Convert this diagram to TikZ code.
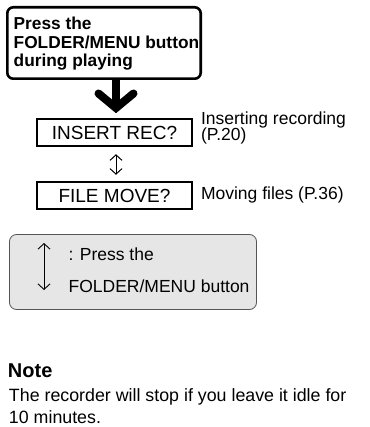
\documentclass[tikz,border=0pt]{standalone}
\usepackage{fontspec}
\setmainfont{Liberation Sans}
\usetikzlibrary{arrows.meta}
\definecolor{keyfill}{HTML}{E6E6E6}
\definecolor{keyline}{HTML}{555555}
\begin{document}
\begin{tikzpicture}[x=1pt,y=-1pt,
  every node/.style={inner sep=0pt, outer sep=0pt},
  topbox/.style={draw, line width=2.6pt, rounded corners=6pt, minimum width=193.4pt, minimum height=71.4pt},
  toptext/.style={align=left, font=\fontsize{17.3}{18.5}\selectfont\bfseries},
  menubox/.style={draw, line width=1.6pt, minimum width=155.4pt, minimum height=27.4pt, font=\fontsize{19}{20}\selectfont},
  lbl/.style={anchor=base west, font=\fontsize{17.5}{18}\selectfont},
  body/.style={anchor=base west, font=\fontsize{17.8}{20}\selectfont},
  dblarrow/.style={line width=1pt, {Straight Barb[length=5.5pt,width=12pt]}-{Straight Barb[length=5.5pt,width=12pt]}},
  bigarrow/.style={line width=8pt},
  graybox/.style={draw=keyline, fill=keyfill, line width=0.8pt, rounded corners=7pt, minimum width=247pt, minimum height=75pt},
]
\useasboundingbox (0,0) rectangle (369,427);

% top instruction box
\node[topbox] (top) at (104,43) {};
\node[toptext, anchor=west] (toptxt) at (13.7,44) {Press the\\FOLDER/MENU button\\during playing};

% menu boxes
\node[menubox] (ins) at (114.5,132.5) {INSERT REC?};
\node[menubox] (fil) at (114.5,195.5) {FILE MOVE?};

% big arrow from top box to INSERT REC?
\coordinate (as) at ([xshift=12pt]top.south);
\coordinate (ae) at (116,106);
\coordinate (hl) at (98.5,93.5);
\coordinate (ht) at (116,108);
\coordinate (hr) at (133.5,93.5);
\draw[bigarrow] (as) -- (ae);
\draw[bigarrow, line cap=round, miter limit=10] (hl) -- (ht) -- (hr);

% double arrow between menu items
\draw[dblarrow, shorten <=8pt, shorten >=7pt] ([xshift=1.5pt]ins.south) -- ([xshift=1.5pt]fil.north);

% side labels
\node[lbl] (l1a) at (201,125) {Inserting recording};
\node[lbl] (l1b) at (201,141) {(P.20)};
\node[lbl] (l2) at (201,200) {Moving files (P.36)};

% key box
\node[graybox] (key) at (133,272) {};
\coordinate (k1) at (44,243);
\coordinate (k2) at (44,290);
\draw[dblarrow, line width=0.9pt] (k1) -- (k2);
\node[lbl] (kt1) at (68.5,260) {: Press the};
\node[lbl] (kt2) at (68.6,292) {FOLDER/MENU button};

% note
\node[anchor=base west, font=\fontsize{20}{22}\selectfont\bfseries] (noteh) at (8,377) {Note};
\node[body] (n1) at (9,401.5) {The recorder will stop if you leave it idle for};
\node[body] (n2) at (9,423.5) {10 minutes.};
\end{tikzpicture}
\end{document}
